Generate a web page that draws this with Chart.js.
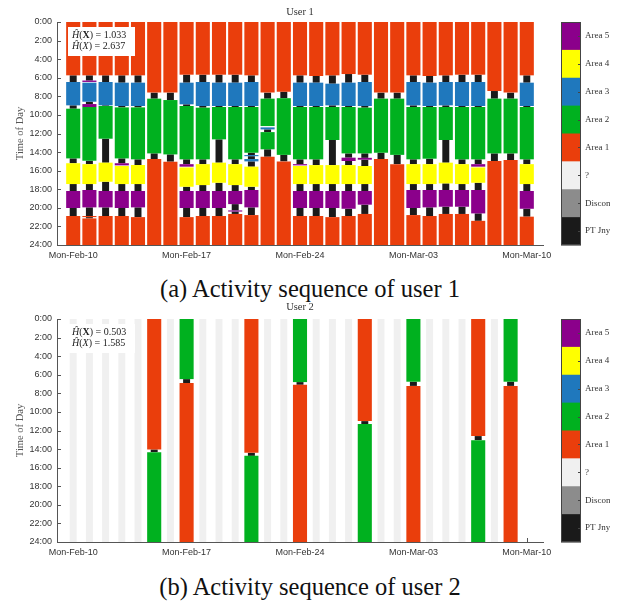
<!DOCTYPE html>
<html>
<head>
<meta charset="utf-8">
<script src="https://cdn.jsdelivr.net/npm/chart.js@4.4.1/dist/chart.umd.min.js"></script>
<style>
  html, body { margin: 0; padding: 0; background: #fff; }
  body { width: 620px; height: 602px; position: relative; overflow: hidden; }
  .wrap { position: absolute; left: 0; width: 620px; }
  .caption {
    position: absolute; left: 0; width: 620px; text-align: center;
    font-family: "Liberation Serif", "Times New Roman", serif;
    font-size: 24.5px; line-height: 24px; color: #111;
  }
</style>
</head>
<body>
<div class="wrap" style="top:0;height:268px"><canvas id="chart1"></canvas></div>
<div class="caption" style="top:277px">(a) Activity sequence of user 1</div>
<div class="wrap" style="top:296px;height:270px"><canvas id="chart2"></canvas></div>
<div class="caption" style="top:575px">(b) Activity sequence of user 2</div>

<script>
// -------------------- Data --------------------
// status codes, in colour bar order (top to bottom)
const statusCodes = ["A5", "A4", "A3", "A2", "A1", "?", "DC", "PT"];
const statusNames = ["Area 5", "Area 4", "Area 3", "Area 2", "Area 1", "?", "Disconnected", "PT Jny"];
const statusColors = ["#8b008b", "#ffff00", "#1f78bd", "#00b11f", "#ea3e0c", "#f0f0f0", "#8c8c8c", "#1a1a1a"];
const narrowCodes = ["PT", "?", "DC"];

// x axis: day index 0 = Mon-Feb-10
const tickDays = [0, 7, 14, 21, 28];
const tickLabels = ["Mon-Feb-10", "Mon-Feb-17", "Mon-Feb-24", "Mon-Mar-03", "Mon-Mar-10"];

// each day: [status, end hour, status, end hour, ...], starting at 0:00 ("-" = nothing)
const user1Days = [
  ["A1",5.74,"PT",6.46,"A3",8.97,"PT",9.33,"A2",14.68,"PT",15.2,"A4",17.44,"PT",18.19,"A5",20.02,"PT",20.88,"A1",24],
  ["A1",5.74,"PT",6.3,"A5",6.45,"-",6.53,"A3",8.58,"PT",8.83,"A5",9.15,"A2",14.93,"PT",15.3,"A4",17.44,"PT",18.08,"A5",19.95,"PT",20.88,"A1",21.0,"PT",21.14,"A1",24],
  ["A1",5.74,"PT",6.46,"A3",8.97,"PT",9.04,"A2",12.56,"PT",15.14,"A4",17.19,"PT",18.19,"A5",19.95,"PT",20.88,"A1",24],
  ["A1",5.74,"PT",6.53,"A3",9.04,"PT",9.19,"A2",14.68,"PT",15.2,"A5",15.43,"-",15.5,"A4",17.44,"PT",18.19,"A5",20.02,"PT",20.88,"A1",24],
  ["A1",5.74,"PT",6.53,"A3",9.04,"PT",9.19,"A2",14.78,"PT",15.39,"A4",17.44,"PT",18.19,"A5",19.95,"PT",21.0,"A1",24],
  ["A1",7.6,"PT",8.25,"A2",14.14,"PT",14.75,"A1",24],
  ["A1",7.6,"PT",8.4,"A2",14.25,"PT",15.03,"A1",24],
  ["A1",5.67,"PT",6.53,"A3",8.86,"PT",9.04,"A2",14.78,"PT",15.3,"A5",15.57,"-",15.65,"A4",17.73,"PT",18.19,"A5",20.02,"PT",21.0,"A1",24],
  ["A1",5.67,"PT",6.46,"A3",9.04,"PT",9.22,"A2",14.78,"PT",15.3,"A4",17.55,"PT",18.19,"A5",20.02,"PT",20.88,"A1",24],
  ["A1",5.67,"PT",6.53,"A3",9.04,"PT",9.15,"A2",12.63,"PT",15.14,"A4",17.3,"PT",18.19,"A5",20.02,"PT",20.88,"A1",24],
  ["A1",5.67,"PT",6.53,"A3",9.04,"PT",9.15,"A2",14.78,"PT",15.3,"A4",17.55,"PT",18.19,"A5",19.6,"PT",20.28,"A5",20.4,"PT",20.66,"A1",24],
  ["A1",5.74,"PT",6.46,"A3",9.04,"PT",9.15,"A2",14.07,"PT",14.32,"A3",14.44,"PT",14.75,"A3",15.0,"PT",15.57,"A4",17.73,"PT",18.08,"A5",19.95,"PT",20.78,"A1",24],
  ["A1",7.6,"PT",8.25,"A2",11.2,"-",11.34,"A3",11.56,"PT",11.85,"A2",13.7,"PT",14.5,"A1",24],
  ["A1",7.5,"PT",8.2,"A2",14.3,"PT",15.0,"A1",24],
  ["A1",5.74,"PT",6.53,"A3",9.04,"PT",9.15,"A2",14.78,"PT",15.3,"A5",15.43,"-",15.5,"A4",17.44,"PT",18.19,"A5",20.02,"PT",20.88,"A1",24],
  ["A1",5.81,"PT",6.53,"A3",9.04,"PT",9.15,"A2",14.78,"PT",15.4,"A4",17.44,"PT",18.19,"A5",20.02,"PT",20.88,"A1",24],
  ["A1",5.74,"PT",6.64,"A3",8.97,"PT",9.15,"A2",12.7,"PT",15.4,"A4",17.44,"PT",18.19,"A5",20.02,"PT",21.0,"A1",24],
  ["A1",5.6,"PT",6.53,"A3",9.04,"PT",9.15,"A2",14.14,"PT",14.6,"A5",14.96,"PT",15.4,"A4",17.44,"PT",18.19,"A5",20.1,"PT",20.88,"A1",24],
  ["A1",5.67,"PT",6.46,"A3",9.04,"PT",9.22,"A2",14.14,"PT",14.62,"A5",14.82,"PT",15.5,"A4",17.44,"PT",18.19,"A5",19.66,"PT",20.66,"A1",24],
  ["A1",7.6,"PT",8.25,"A2",14.07,"PT",14.75,"A1",24],
  ["A1",7.6,"PT",8.25,"A2",14.3,"PT",15.3,"A1",24],
  ["A1",5.74,"PT",6.46,"A3",8.97,"PT",9.15,"A2",14.78,"PT",15.3,"A4",17.44,"PT",18.08,"A5",20.02,"PT",20.78,"A1",24],
  ["A1",5.81,"PT",6.53,"A3",9.04,"PT",9.15,"A2",14.71,"PT",15.3,"A4",17.44,"PT",18.08,"A5",19.95,"PT",20.88,"A1",24],
  ["A1",5.74,"PT",6.46,"A3",8.97,"PT",9.15,"A2",12.7,"PT",15.14,"A4",17.37,"PT",18.08,"A5",19.88,"PT",20.66,"A1",24],
  ["A1",5.67,"PT",6.46,"A3",9.04,"PT",9.15,"A2",14.78,"PT",15.3,"A4",17.44,"PT",18.08,"A5",19.88,"PT",20.66,"A1",24],
  ["A1",5.67,"PT",6.46,"A3",9.04,"PT",9.15,"A2",14.78,"PT",15.3,"A5",15.57,"-",15.65,"A4",17.3,"PT",18.08,"A5",20.6,"PT",21.4,"A1",24],
  ["A1",7.43,"PT",8.25,"A2",14.14,"PT",14.96,"A1",24],
  ["A1",7.6,"PT",8.25,"A2",14.14,"PT",14.86,"A1",24],
  ["A1",5.74,"PT",6.53,"A3",9.04,"PT",9.15,"A2",14.78,"PT",15.3,"A4",17.44,"PT",18.19,"A5",20.1,"PT",20.95,"A1",24]
];

const user2Days = [
  ["?",24], ["?",24], ["?",24], ["?",24], ["?",24],
  ["A1",14.04,"PT",14.33,"A2",24],
  ["?",24],
  ["A2",6.47,"PT",6.9,"A1",24],
  ["?",24], ["?",24], ["?",24],
  ["A1",14.4,"PT",14.73,"A2",24],
  ["?",24], ["?",24],
  ["A2",6.79,"PT",7.08,"A1",24],
  ["?",24], ["?",24], ["?",24],
  ["A1",10.99,"PT",11.3,"A2",24],
  ["?",24], ["?",24],
  ["A2",6.75,"PT",7.2,"A1",24],
  ["?",24], ["?",24], ["?",24],
  ["A1",12.6,"PT",13.04,"A2",24],
  ["?",24],
  ["A2",6.75,"PT",7.2,"A1",24],
  []
];

const user1Entropy = ["1.033", "2.637"];
const user2Entropy = ["0.503", "1.585"];

const serif = '"Liberation Serif", "Times New Roman", serif';
const sans = '"Liberation Sans", Arial, sans-serif';


// -------------------- Build floating-bar datasets --------------------
function buildDatasets(days) {
  return statusCodes.map((code, k) => {
    const data = [];
    days.forEach((segs, d) => {
      let start = 0;
      for (let i = 0; i < segs.length; i += 2) {
        const end = segs[i + 1];
        if (segs[i] === code) data.push({ x: d, y: [start, end] });
        start = end;
      }
    });
    const narrow = narrowCodes.includes(code);
    return {
      label: statusNames[k],
      data: data,
      backgroundColor: statusColors[k],
      borderWidth: 0,
      grouped: false,
      categoryPercentage: 1,
      barPercentage: narrow ? 0.43 : 0.87
    };
  });
}


// -------------------- Extras: title, inward ticks, entropy box, colour bar --------------------
const extrasPlugin = {
  id: "extras",
  beforeDatasetsDraw(chart) {
    const { ctx, chartArea: a, scales } = chart;
    ctx.save();
    ctx.strokeStyle = "#555";
    ctx.lineWidth = 1;
    ctx.beginPath();
    for (let v = 0; v <= 24; v += 2) {
      const y = Math.round(scales.y.getPixelForValue(v)) + 0.5;
      ctx.moveTo(a.left, y);
      ctx.lineTo(a.left + 4, y);
    }
    tickDays.forEach((d) => {
      const x = Math.round(scales.x.getPixelForValue(d)) + 0.5;
      ctx.moveTo(x, a.bottom);
      ctx.lineTo(x, a.bottom - 4);
    });
    ctx.stroke();
    ctx.restore();
  },
  afterDraw(chart) {
    const { ctx, chartArea: a } = chart;
    const opts = chart.options.plugins.extras;
    ctx.save();

    // title
    ctx.fillStyle = "#333";
    ctx.font = "10.5px " + serif;
    ctx.textAlign = "center";
    ctx.textBaseline = "middle";
    ctx.fillText(opts.title, (a.left + a.right) / 2, a.top - opts.titleGap);

    // entropy box
    ctx.fillStyle = "#fff";
    ctx.fillRect(a.left + 11, a.top + 5, 67, 29);
    ctx.fillStyle = "#222";
    ctx.textAlign = "left";
    const lines = [
      [["italic ", "Ĥ"], ["", "("], ["bold ", "X"], ["", ") = " + opts.entropy[0]]],
      [["italic ", "Ĥ"], ["", "("], ["italic ", "X"], ["", ") = " + opts.entropy[1]]]
    ];
    lines.forEach((parts, i) => {
      let x = a.left + 15;
      const y = a.top + 13 + i * 11.5;
      parts.forEach(([style, txt]) => {
        ctx.font = style + "10px " + serif;
        ctx.fillText(txt, x, y);
        x += ctx.measureText(txt).width;
      });
    });

    // colour bar
    const cbLeft = a.right + 18, cbW = 20;
    const step = (a.bottom - a.top) / statusCodes.length;
    statusColors.forEach((c, i) => {
      ctx.fillStyle = c;
      ctx.fillRect(cbLeft, a.top + i * step, cbW, step + 0.5);
    });
    ctx.strokeStyle = "#444";
    ctx.lineWidth = 1;
    ctx.strokeRect(cbLeft + 0.5, a.top + 0.5, cbW - 1, a.bottom - a.top - 1);
    ctx.beginPath();
    statusNames.forEach((n, i) => {
      const y = Math.round(a.top + (i + 0.5) * step) + 0.5;
      ctx.moveTo(cbLeft + cbW, y);
      ctx.lineTo(cbLeft + cbW - 3, y);
    });
    ctx.stroke();
    ctx.beginPath();
    ctx.rect(cbLeft + cbW, 0, 610 - cbLeft - cbW, chart.height);
    ctx.clip();
    ctx.fillStyle = "#333";
    ctx.font = "9px " + serif;
    ctx.textBaseline = "middle";
    statusNames.forEach((n, i) => {
      ctx.fillText(n, cbLeft + cbW + 4, a.top + (i + 0.5) * step);
    });
    ctx.restore();
  }
};


// -------------------- Chart factory --------------------
function makeChart(id, days, title, entropy, topPad, xHeight, titleGap) {
  return new Chart(document.getElementById(id), {
    type: "bar",
    data: { datasets: buildDatasets(days) },
    plugins: [extrasPlugin],
    options: {
      responsive: true,
      maintainAspectRatio: false,
      animation: false,
      layout: { padding: { top: topPad, right: 77, left: 0, bottom: 0 } },
      plugins: {
        legend: { display: false },
        tooltip: { enabled: false },
        extras: { title: title, entropy: entropy, titleGap: titleGap }
      },
      scales: {
        x: {
          type: "linear",
          min: -1,
          max: 29,
          offset: false,
          grid: { display: false, drawTicks: false },
          border: { display: true, color: "#555", width: 1 },
          afterBuildTicks: (scale) => { scale.ticks = tickDays.map((v) => ({ value: v })); },
          afterFit: (scale) => { scale.height = xHeight; },
          ticks: {
            autoSkip: false,
            maxRotation: 0,
            padding: 5,
            color: "#333",
            font: { family: sans, size: 9 },
            callback: (v) => tickLabels[tickDays.indexOf(v)]
          }
        },
        y: {
          type: "linear",
          reverse: true,
          min: 0,
          max: 24,
          grid: { display: false, drawTicks: false },
          border: { display: true, color: "#555", width: 1 },
          afterFit: (scale) => { scale.width = 57; },
          ticks: {
            stepSize: 2,
            autoSkip: false,
            padding: 5,
            color: "#333",
            font: { family: sans, size: 9 },
            callback: (v) => v + ":00"
          },
          title: {
            display: true,
            text: "Time of Day",
            color: "#555",
            font: { family: serif, size: 10.5 },
            padding: { top: 14, bottom: 0 }
          }
        }
      }
    }
  });
}

makeChart("chart1", user1Days, "User 1", user1Entropy, 22, 23, 10);
makeChart("chart2", user2Days, "User 2", user2Entropy, 23, 24, 12);
</script>
</body>
</html>
